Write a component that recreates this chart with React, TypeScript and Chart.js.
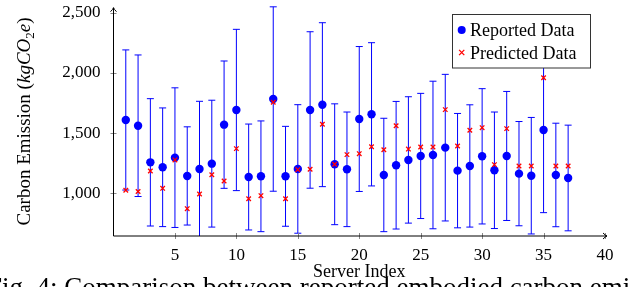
import React, { useEffect, useRef } from 'react';
import { Chart, registerables } from 'chart.js';

Chart.register(...registerables);

const serverIndex = [1, 2, 3, 4, 5, 6, 7, 8, 9, 10, 11, 12, 13, 14, 15, 16, 17, 18, 19, 20, 21, 22, 23, 24, 25, 26, 27, 28, 29, 30, 31, 32, 33, 34, 35, 36, 37];
const reported = [1609, 1561, 1257, 1216, 1296, 1144, 1202, 1246, 1570, 1692, 1135, 1141, 1783, 1141, 1202, 1692, 1736, 1241, 1199, 1617, 1656, 1152, 1233, 1277, 1310, 1318, 1379, 1188, 1227, 1307, 1191, 1310, 1163, 1146, 1526, 1152, 1127];
const reportedError = [582, 588, 529, 493, 580, 408, 562, 527, 529, 670, 440, 460, 766, 415, 534, 650, 681, 502, 476, 602, 595, 471, 530, 525, 520, 613, 609, 475, 508, 562, 484, 536, 433, 484, 687, 430, 439];
const predicted = [1025, 1015, 1185, 1041, 1277, 872, 994, 1154, 1102, 1371, 955, 980, 1756, 955, 1196, 1199, 1573, 1241, 1321, 1329, 1387, 1362, 1561, 1367, 1384, 1384, 1695, 1393, 1523, 1545, 1238, 1537, 1227, 1227, 1960, 1227, 1227];
const xTicks = [5, 10, 15, 20, 25, 30, 35, 40];
const yTicks = [1000, 1500, 2000, 2500];
const seriesNames = ['Reported Data', 'Predicted Data'];
const xTitle = 'Server Index';
const caption = 'Fig. 4: Comparison between reported embodied carbon emissions and predicted';

const SERIF = "'Liberation Serif', 'Times New Roman', serif";
const BLUE = '#0000ff';
const RED = '#ff0000';

const overlay = {
  id: 'overlay',
  beforeDatasetsDraw(chart: any) {
    const { ctx, scales, chartArea } = chart;
    const x = scales.x;
    const y = scales.y;
    ctx.save();
    ctx.beginPath();
    ctx.rect(chartArea.left, chartArea.top - 2, chartArea.right - chartArea.left, chartArea.bottom - chartArea.top + 2);
    ctx.clip();
    ctx.strokeStyle = BLUE;
    ctx.lineWidth = 1;
    serverIndex.forEach((s, i) => {
      const px = x.getPixelForValue(s);
      const top = y.getPixelForValue(reported[i] + reportedError[i]);
      const bot = y.getPixelForValue(reported[i] - reportedError[i]);
      ctx.beginPath();
      ctx.moveTo(px, top);
      ctx.lineTo(px, bot);
      ctx.moveTo(px - 3.5, top);
      ctx.lineTo(px + 3.5, top);
      ctx.moveTo(px - 3.5, bot);
      ctx.lineTo(px + 3.5, bot);
      ctx.stroke();
    });
    ctx.restore();
  },
  afterDatasetsDraw(chart: any) {
    const { ctx, scales, chartArea } = chart;
    const x = scales.x;
    const y = scales.y;
    const L = chartArea.left;
    const B = chartArea.bottom;
    ctx.save();
    ctx.strokeStyle = '#888';
    ctx.lineWidth = 1;
    xTicks.forEach((t) => {
      const px = Math.round(x.getPixelForValue(t)) + 0.5;
      ctx.beginPath();
      ctx.moveTo(px, B - 3);
      ctx.lineTo(px, B + 3);
      ctx.stroke();
    });
    yTicks.forEach((t) => {
      const py = Math.round(y.getPixelForValue(t)) + 0.5;
      ctx.beginPath();
      ctx.moveTo(L - 3, py);
      ctx.lineTo(L + 3, py);
      ctx.stroke();
    });
    ctx.strokeStyle = '#000';
    ctx.lineWidth = 1;
    const topTip = chartArea.top + 1;
    const rightTip = chartArea.right + 2;
    ctx.beginPath();
    ctx.moveTo(L, B);
    ctx.lineTo(L, topTip);
    ctx.moveTo(L, B);
    ctx.lineTo(rightTip, B);
    ctx.stroke();
    ctx.beginPath();
    ctx.moveTo(L - 3, topTip + 4);
    ctx.quadraticCurveTo(L - 0.5, topTip + 1.5, L, topTip);
    ctx.quadraticCurveTo(L + 0.5, topTip + 1.5, L + 3, topTip + 4);
    ctx.moveTo(rightTip - 4, B - 3);
    ctx.quadraticCurveTo(rightTip - 1.5, B - 0.5, rightTip, B);
    ctx.quadraticCurveTo(rightTip - 1.5, B + 0.5, rightTip - 4, B + 3);
    ctx.stroke();

    const bx = 452.5, by = 14.5, bw = 138, bh = 53.5;
    ctx.fillStyle = '#fff';
    ctx.fillRect(bx, by, bw, bh);
    ctx.strokeStyle = '#333';
    ctx.lineWidth = 1;
    ctx.strokeRect(bx, by, bw, bh);
    ctx.fillStyle = BLUE;
    ctx.beginPath();
    ctx.arc(461.7, 30, 4, 0, Math.PI * 2);
    ctx.fill();
    ctx.strokeStyle = RED;
    ctx.lineWidth = 1.3;
    const cx = 461.7, cy = 52.5, r = 2.6;
    ctx.beginPath();
    ctx.moveTo(cx - r, cy - r);
    ctx.lineTo(cx + r, cy + r);
    ctx.moveTo(cx - r, cy + r);
    ctx.lineTo(cx + r, cy - r);
    ctx.stroke();
    ctx.fillStyle = '#000';
    ctx.font = `18px ${SERIF}`;
    ctx.textAlign = 'left';
    ctx.textBaseline = 'alphabetic';
    ctx.fillText(seriesNames[0], 470, 35.5);
    ctx.fillText(seriesNames[1], 470, 58.5);
    ctx.restore();
  },
  afterDraw(chart: any) {
    const { ctx } = chart;
    ctx.save();
    const size = 19;
    const parts: [string, string, number][] = [
      ['Carbon Emission (', `${size}px ${SERIF}`, 0],
      ['kgCO', `italic ${size}px ${SERIF}`, 0],
      ['2', `${Math.round(size * 0.7)}px ${SERIF}`, 4],
      ['e', `italic ${size}px ${SERIF}`, 0],
      [')', `${size}px ${SERIF}`, 0],
    ];
    let total = 0;
    const widths = parts.map(([t, f]) => {
      ctx.font = f;
      const w = ctx.measureText(t).width;
      total += w;
      return w;
    });
    ctx.translate(30, 121.5);
    ctx.rotate(-Math.PI / 2);
    ctx.fillStyle = '#000';
    ctx.textBaseline = 'alphabetic';
    ctx.textAlign = 'left';
    let cur = -total / 2;
    parts.forEach(([t, f, dy], i) => {
      ctx.font = f;
      ctx.fillText(t, cur, dy);
      cur += widths[i];
    });
    ctx.restore();

    ctx.save();
    ctx.fillStyle = '#000';
    ctx.font = `18px ${SERIF}`;
    ctx.textAlign = 'center';
    ctx.textBaseline = 'alphabetic';
    ctx.fillText(xTitle, (chart.chartArea.left + chart.chartArea.right) / 2, 277);
    ctx.font = `27px ${SERIF}`;
    ctx.textAlign = 'left';
    ctx.fillText(caption, -13, 295.5);
    ctx.restore();
  },
};

const zeroPadding = (s: any) => {
  s.paddingTop = 0;
  s.paddingBottom = 0;
  s.paddingLeft = 0;
  s.paddingRight = 0;
};

export default function App() {
  const ref = useRef<HTMLCanvasElement | null>(null);
  useEffect(() => {
    if (!ref.current) return;
    Chart.defaults.font.family = SERIF;
    const chart = new Chart(ref.current, {
      type: 'scatter',
      data: {
        datasets: [
          {
            label: seriesNames[1],
            data: serverIndex.map((s, i) => ({ x: s, y: predicted[i] })),
            pointStyle: 'crossRot',
            radius: 3.2,
            borderColor: RED,
            backgroundColor: RED,
            borderWidth: 1.3,
          },
          {
            label: seriesNames[0],
            data: serverIndex.map((s, i) => ({ x: s, y: reported[i] })),
            pointStyle: 'circle',
            radius: 4.2,
            borderWidth: 0,
            backgroundColor: BLUE,
            borderColor: BLUE,
          },
        ],
      },
      options: {
        responsive: false,
        animation: false,
        events: [],
        layout: { padding: { left: 0, right: 24, top: 6.7, bottom: 0 } },
        plugins: { legend: { display: false }, tooltip: { enabled: false } },
        scales: {
          x: {
            type: 'linear',
            min: 0,
            max: 40,
            afterBuildTicks: (s: any) => { s.ticks = xTicks.map((v) => ({ value: v })); },
            afterFit: (s: any) => { s.height = 51; zeroPadding(s); },
            grid: { display: false, drawTicks: false },
            border: { display: false },
            ticks: { color: '#000', font: { size: 17, family: SERIF }, padding: 9, maxRotation: 0, callback: (v: any) => String(v) },
          },
          y: {
            type: 'linear',
            min: 645,
            max: 2550,
            afterBuildTicks: (s: any) => { s.ticks = yTicks.map((v) => ({ value: v })); },
            afterFit: (s: any) => { s.width = 113.5; zeroPadding(s); },
            grid: { display: false, drawTicks: false },
            border: { display: false },
            ticks: { color: '#000', font: { size: 17, family: SERIF }, padding: 13, callback: (v: any) => Number(v).toLocaleString('en-US') },
          },
        },
      },
      plugins: [overlay],
    } as any);
    return () => chart.destroy();
  }, []);
  return (
    <div style={{ position: 'fixed', left: 0, top: 0, width: 629, height: 287, overflow: 'hidden', background: '#fff' }}>
      <canvas ref={ref} width={629} height={287} style={{ width: 629, height: 287, display: 'block' }} />
    </div>
  );
}
